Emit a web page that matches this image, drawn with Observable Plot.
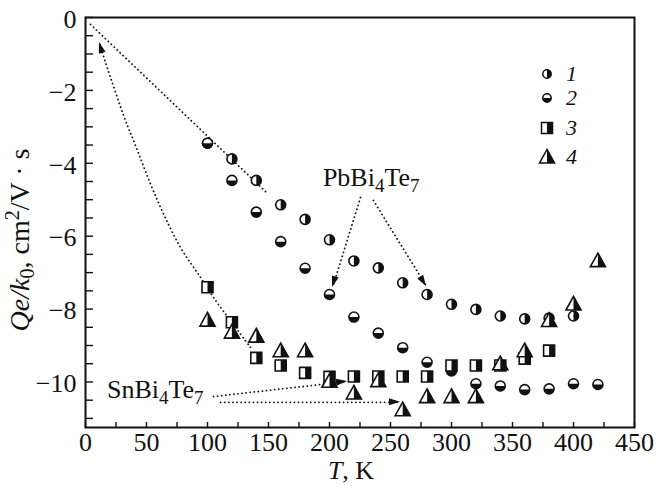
<!DOCTYPE html>
<html><head><meta charset="utf-8">
<script src="https://cdn.jsdelivr.net/npm/d3@7"></script>
<script src="https://cdn.jsdelivr.net/npm/@observablehq/plot@0.6"></script>
<style>body{margin:0;background:#fff} svg{font-family:"Liberation Serif","Times New Roman",serif}</style>
</head><body><div id="chart"></div>
<script>
// ---- data (T in K, Qe/k0 in cm^2/V·s) ----
const temps1 = [100,120,140,160,180,200,220,240,260,280,300,320,340,360,380,400];
const series1 = [-3.45,-3.88,-4.47,-5.14,-5.54,-6.1,-6.68,-6.87,-7.28,-7.6,-7.87,-8.01,-8.19,-8.27,-8.25,-8.19];
const temps2 = [100,120,140,160,180,200,220,240,260,280,300,320,340,360,380,400,420];
const series2 = [-3.45,-4.47,-5.34,-6.15,-6.88,-7.6,-8.22,-8.66,-9.06,-9.46,-9.7,-10.05,-10.11,-10.21,-10.19,-10.05,-10.07];
const temps3 = [100,120,140,160,180,200,220,240,260,280,300,320,340,360,380];
const series3 = [-7.4,-8.36,-9.34,-9.55,-9.75,-9.86,-9.85,-9.85,-9.85,-9.85,-9.55,-9.55,-9.55,-9.36,-9.14];
const temps4 = [100,120,140,160,180,200,220,240,260,280,300,320,340,360,380,400,420];
const series4 = [-8.3,-8.63,-8.74,-9.14,-9.14,-9.98,-10.3,-9.96,-10.76,-10.4,-10.4,-10.4,-9.5,-9.14,-8.31,-7.86,-6.67];
const seriesNames = ["1","2","3","4"];
const xTicks = [0,50,100,150,200,250,300,350,400,450];
const yTicks = [-10,-8,-6,-4,-2,0];

// annotation guides (data units)
const curveT = [135.2,104.9,94.3,77.9,59.0,39.3,32.8,16.4,11.5];
const curveQ = [-9.05,-7.68,-7.13,-6.31,-5.02,-3.37,-2.83,-1.23,-0.69];
const straightGuide = [{T1:4.1,Q1:-0.19,T2:149.2,Q2:-4.83}];
const arrowGuides = [
  {T1:225.4,Q1:-4.94,T2:202.5,Q2:-7.41},
  {T1:236.0,Q1:-5.02,T2:279.5,Q2:-7.38},
  {T1:104.9,Q1:-10.40,T2:214.8,Q2:-9.99},
  {T1:110.7,Q1:-10.56,T2:258.2,Q2:-10.56}
];
const labelPb = {T:195, Q:-4.64, base:"PbBi", s1:"4", mid:"Te", s2:"7"};
const labelSn = {T:18, Q:-10.45, base:"SnBi", s1:"4", mid:"Te", s2:"7"};

// ---- symbols ----
const unit = s => Math.sqrt(s/Math.PI);
const circ = {draw(c,s){const r=unit(s); c.moveTo(r,0); c.arc(0,0,r,0,2*Math.PI); c.closePath();}};
const circRight = {draw(c,s){const r=unit(s); c.moveTo(0,-r); c.arc(0,0,r,-Math.PI/2,Math.PI/2); c.closePath();}};
const circBottom = {draw(c,s){const r=unit(s); c.moveTo(r,0); c.arc(0,0,r,0,Math.PI); c.closePath();}};
const sq = {draw(c,s){const a=unit(s); c.rect(-a,-a,2*a,2*a);}};
const sqRight = {draw(c,s){const a=unit(s); c.rect(0,-a,a,2*a);}};
const tri = {draw(c,s){const r=unit(s); c.moveTo(0,-1.3*r); c.lineTo(1.3*r,1.05*r); c.lineTo(-1.3*r,1.05*r); c.closePath();}};
const triRight = {draw(c,s){const r=unit(s); c.moveTo(0,-1.3*r); c.lineTo(1.3*r,1.05*r); c.lineTo(0,1.05*r); c.closePath();}};

const mk = (T,Q) => T.map((t,i)=>({T:t,Q:Q[i]}));
const d1 = mk(temps1,series1), d2 = mk(temps2,series2), d3s = mk(temps3,series3), d4 = mk(temps4,series4);
const curveData = mk(curveT,curveQ);

const ink = "#111";
const dotted = {stroke:ink, strokeWidth:1.8, strokeDasharray:"0.1,4", strokeLinecap:"round"};
const symbolSpecs = [
  {data:d1, outline:circ, half:circRight, r:5},
  {data:d2, outline:circ, half:circBottom, r:5},
  {data:d3s, outline:sq, half:sqRight, r:5.5},
  {data:d4, outline:tri, half:triRight, r:5.8}
];
const dotMarks = symbolSpecs.flatMap(s => [
  Plot.dot(s.data, {x:"T", y:"Q", symbol:s.outline, r:s.r, fill:"white", stroke:ink, strokeWidth:1.6}),
  Plot.dot(s.data, {x:"T", y:"Q", symbol:s.half, r:s.r, fill:ink})
]);

const chart = Plot.plot({
  width:658, height:493, marginLeft:85, marginRight:24, marginTop:17, marginBottom:66,
  style:{fontFamily:"Liberation Serif", fontSize:"26px", color:ink, background:"white"},
  x:{domain:[0,450]},
  y:{domain:[-11.25,0]},
  marks:[
    Plot.axisX({ticks:d3.range(0,451,25), tickSize:-5, tickFormat:()=>"", label:null, strokeWidth:1.4}),
    Plot.axisX({ticks:xTicks, tickSize:0, tickPadding:5, label:null}),
    Plot.axisY({ticks:d3.range(-11,0.01,0.5), tickSize:-8, tickFormat:()=>"", label:null, strokeWidth:1.4}),
    Plot.axisY({ticks:yTicks, tickSize:0, tickPadding:9, label:null, dy:2}),
    Plot.line(curveData, {x:"T", y:"Q", curve:"catmull-rom", ...dotted}),
    Plot.link(straightGuide, {x1:"T1", y1:"Q1", x2:"T2", y2:"Q2", ...dotted}),
    Plot.link(arrowGuides, {x1:"T1", y1:"Q1", x2:"T2", y2:"Q2", ...dotted}),
    ...dotMarks,
    Plot.frame({stroke:ink, strokeWidth:2})
  ]
});
document.getElementById("chart").appendChild(chart);

const svg = d3.select(chart);
const sx = chart.scale("x"), sy = chart.scale("y");
const X = v => sx.apply(v), Y = v => sy.apply(v);

// arrowheads
function head(x1,y1,x2,y2){
  const a = Math.atan2(y2-y1, x2-x1), L = 11, w = 3.5;
  const bx = x2 - L*Math.cos(a), by = y2 - L*Math.sin(a);
  const px = -Math.sin(a)*w, py = Math.cos(a)*w;
  svg.append("path").attr("d",`M${x2},${y2}L${bx+px},${by+py}L${bx-px},${by-py}Z`).attr("fill",ink);
}
arrowGuides.forEach(g => head(X(g.T1),Y(g.Q1),X(g.T2),Y(g.Q2)));
const n = curveData.length;
head(X(curveData[n-2].T),Y(curveData[n-2].Q),X(curveData[n-1].T),Y(curveData[n-1].Q));

// compound labels
function formula(lab){
  const t = svg.append("text").attr("x",X(lab.T)).attr("y",Y(lab.Q)).attr("text-anchor","start").attr("font-size",26).attr("fill",ink);
  t.append("tspan").text(lab.base);
  t.append("tspan").attr("font-size",19).attr("dy",6).text(lab.s1);
  t.append("tspan").attr("dy",-6).text(lab.mid);
  t.append("tspan").attr("font-size",19).attr("dy",6).text(lab.s2);
}
formula(labelPb); formula(labelSn);

// axis titles
const xt = svg.append("text").attr("x",351).attr("y",479).attr("text-anchor","middle").attr("font-size",26).attr("fill",ink);
xt.append("tspan").attr("font-style","italic").text("T");
xt.append("tspan").text(", K");
const yt = svg.append("text").attr("transform","translate(29,240) rotate(-90)").attr("text-anchor","middle").attr("font-size",28).attr("fill",ink);
yt.append("tspan").attr("font-style","italic").text("Qe/k");
yt.append("tspan").attr("font-size",20).attr("dy",5).text("0");
yt.append("tspan").attr("dy",-5).text(", cm");
yt.append("tspan").attr("font-size",20).attr("dy",-10).text("2");
yt.append("tspan").attr("dy",10).text("/V · s");

// legend
const legX = 547, legYs = [74,98,128,157];
const legSym = [[circ,circRight,4.2],[circ,circBottom,4.2],[sq,sqRight,5.5],[tri,triRight,5.8]];
seriesNames.forEach((name,i)=>{
  const [o,h,r] = legSym[i], size = Math.PI*r*r;
  const g = svg.append("g").attr("transform",`translate(${legX},${legYs[i]})`);
  g.append("path").attr("d",d3.symbol(o,size)()).attr("fill","white").attr("stroke",ink).attr("stroke-width",1.5);
  g.append("path").attr("d",d3.symbol(h,size)()).attr("fill",ink);
  svg.append("text").attr("x",legX+19).attr("y",legYs[i]+7).attr("text-anchor","start").attr("font-size",22).attr("font-style","italic").attr("fill",ink).text(name);
});
</script>
</body></html>
